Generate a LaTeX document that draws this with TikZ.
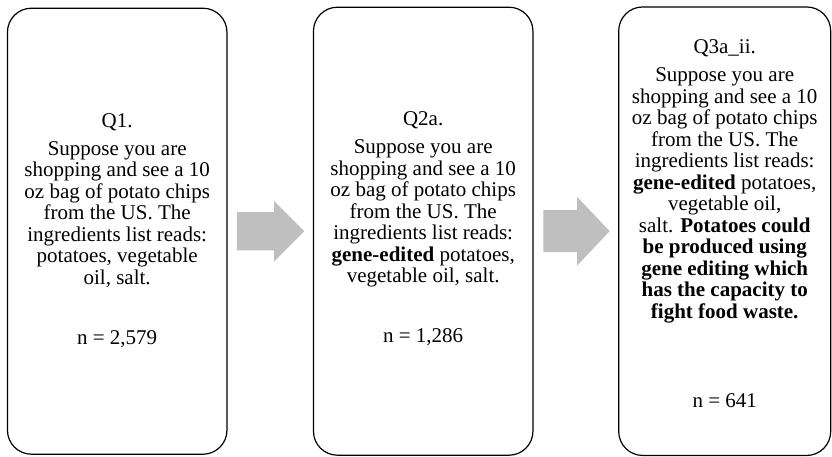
\documentclass[tikz,border=0pt]{standalone}
\usepackage{fontspec}
\setmainfont{Liberation Serif}
\usetikzlibrary{positioning, shapes.arrows}

\begin{document}
\begin{tikzpicture}[x=1pt,y=-1pt,on grid,
    qbox/.style={draw,line width=1.2pt,rounded corners=24pt,minimum width=219.5pt,minimum height=446pt,inner sep=0pt},
    qtext/.style={align=center,inner sep=0pt,anchor=north,font=\fontsize{21}{21.5}\selectfont},
    flow/.style={single arrow,fill=black!25,draw=none,single arrow head indent=0pt,inner xsep=0pt}]
\useasboundingbox (0,0) rectangle (832,456);
\node[qbox] (b1) at (117.2,231.2) {};
\node[qbox,minimum height=448pt] (b2) [right=306pt of b1] {};
\node[qbox,minimum width=212pt,minimum height=448.5pt] (b3) [right=301.5pt of b2] {};
% arrows between the question boxes
\node[flow,minimum height=67.6pt,inner ysep=18.9pt,single arrow head extend=11.2pt,single arrow tip angle=90] (a1) [right=9.1pt of b1.east,anchor=tail] {};
\node[flow,minimum height=66.3pt,inner ysep=20.8pt,single arrow head extend=13.4pt,single arrow tip angle=93] (a2) [right=9.6pt of b2.east,anchor=tail] {};
% question texts
\node[qtext] (t1) at ([yshift=-105.7pt]b1.north) {Q1.\\[6.5pt]
    Suppose you are\\ shopping and see a 10\\ oz bag of potato chips\\ from the US. The\\
    ingredients list reads:\\ potatoes, vegetable\\ oil, salt.\\[38.5pt] n = 2,579};
\node[qtext] (t2) at ([yshift=-105pt]b2.north) {Q2a.\\[6.5pt]
    Suppose you are\\ shopping and see a 10\\ oz bag of potato chips\\ from the US. The\\
    ingredients list reads:\\ \textbf{gene-edited} potatoes,\\ vegetable oil, salt.\\[38.5pt] n = 1,286};
\node[qtext] (t3) at ([yshift=-33.5pt]b3.north) {Q3a\_ii.\\[6.5pt]
    Suppose you are\\ shopping and see a 10\\ oz bag of potato chips\\ from the US. The\\
    ingredients list reads:\\ \textbf{gene-edited} potatoes,\\ vegetable oil,\\
    salt. \textbf{Potatoes could}\\ \textbf{be produced using}\\ \textbf{gene editing which}\\
    \textbf{has the capacity to}\\ \textbf{fight food waste.}\\[68pt] n = 641};
\end{tikzpicture}
\end{document}
